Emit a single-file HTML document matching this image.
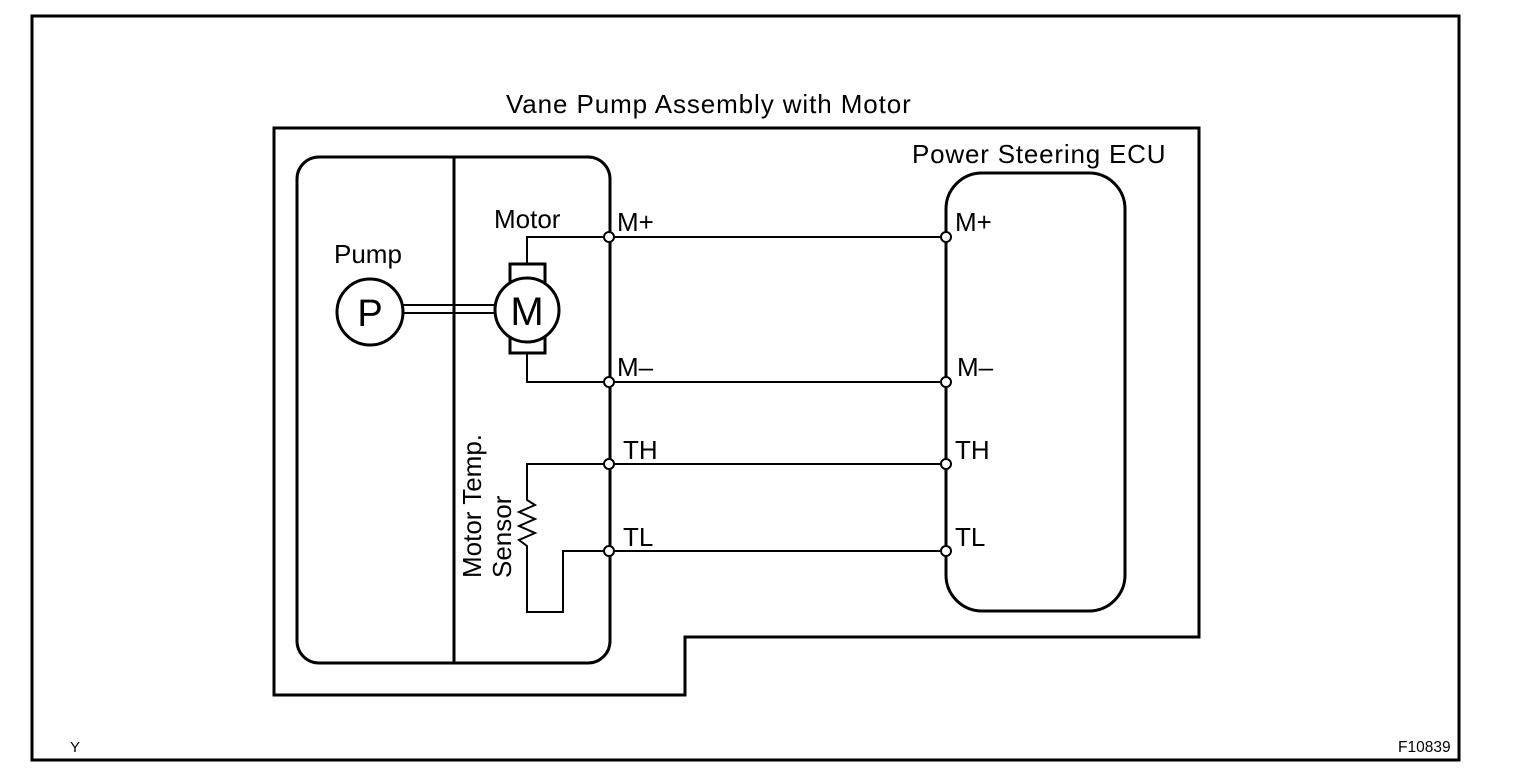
<!DOCTYPE html>
<html><head><style>
html,body{margin:0;padding:0;background:#fff;}
svg{display:block;}
text{font-family:"Liberation Sans",Arial,sans-serif;fill:#000;}
</style></head><body>
<svg width="1520" height="778" viewBox="0 0 1520 778" xmlns="http://www.w3.org/2000/svg">
<rect x="32" y="16" width="1427" height="744" fill="none" stroke="#000" stroke-width="3"/>
<text x="506" y="113" font-size="26" letter-spacing="0.9">Vane Pump Assembly with Motor</text>
<polygon points="274,128 1199,128 1199,637 685,637 685,695 274,695" fill="none" stroke="#000" stroke-width="3"/>
<text x="912" y="163" font-size="26" letter-spacing="0.8">Power Steering ECU</text>
<rect x="297" y="157" width="313" height="506" rx="22" fill="none" stroke="#000" stroke-width="3"/>
<line x1="454" y1="157" x2="454" y2="663" stroke="#000" stroke-width="3"/>
<rect x="946" y="173" width="179" height="438" rx="36" fill="none" stroke="#000" stroke-width="3"/>
<text x="334" y="263" font-size="26">Pump</text>
<circle cx="370" cy="312" r="33" fill="none" stroke="#000" stroke-width="3"/>
<text x="370" y="326" font-size="38" text-anchor="middle">P</text>
<line x1="403" y1="305" x2="495" y2="305" stroke="#000" stroke-width="2"/>
<line x1="403" y1="313" x2="495" y2="313" stroke="#000" stroke-width="2"/>
<text x="494" y="228" font-size="26">Motor</text>
<rect x="510" y="264" width="35" height="89" fill="none" stroke="#000" stroke-width="3"/>
<circle cx="527" cy="310" r="32" fill="#fff" stroke="#000" stroke-width="3"/>
<text x="527" y="325" font-size="40" text-anchor="middle">M</text>
<polyline points="527,264 527,237 607,237" fill="none" stroke="#000" stroke-width="2"/>
<polyline points="527,353 527,382 607,382" fill="none" stroke="#000" stroke-width="2"/>
<polyline points="607,464 527,464 527,500 535,505 519,512 535,519 519,526 535,533 519,540 527,546 527,612 563,612 563,551 607,551" fill="none" stroke="#000" stroke-width="2"/>
<text transform="translate(481,578) rotate(-90)" font-size="26">Motor Temp.</text>
<text transform="translate(511,578) rotate(-90)" font-size="26">Sensor</text>
<g stroke="#000" stroke-width="2">
<line x1="607" y1="237" x2="946" y2="237"/>
<line x1="607" y1="382" x2="946" y2="382"/>
<line x1="607" y1="464" x2="946" y2="464"/>
<line x1="607" y1="551" x2="946" y2="551"/>
</g>
<g fill="#fff" stroke="#000" stroke-width="2">
<circle cx="609" cy="237" r="5"/><circle cx="609" cy="382" r="5"/><circle cx="609" cy="464" r="5"/><circle cx="609" cy="551" r="5"/>
<circle cx="946" cy="237" r="5"/><circle cx="946" cy="382" r="5"/><circle cx="946" cy="464" r="5"/><circle cx="946" cy="551" r="5"/>
</g>
<g font-size="26">
<text x="617" y="231">M+</text><text x="617" y="376">M–</text><text x="623" y="459">TH</text><text x="623" y="546">TL</text>
<text x="955" y="231">M+</text><text x="957" y="376">M–</text><text x="955" y="459">TH</text><text x="955" y="546">TL</text>
</g>
<text x="70" y="752" font-size="15">Y</text>
<text x="1398" y="752" font-size="15.5">F10839</text>
</svg>
</body></html>
